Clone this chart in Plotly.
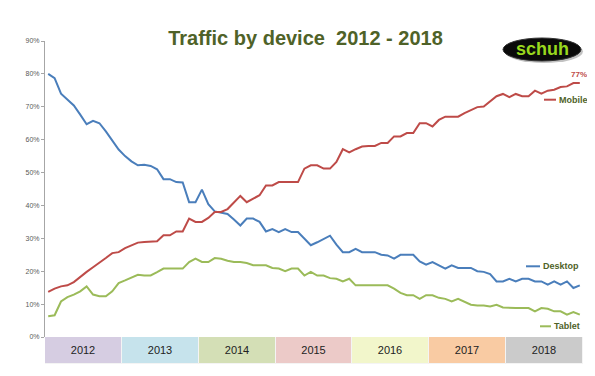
import plotly.graph_objects as go

months = list(range(84))

desktop = [80, 78.7, 74, 72.2, 70.4, 67.6, 64.7, 65.7, 65, 62.5, 59.7, 57,
           55, 53.4, 52.2, 52.4, 52, 51, 48, 48, 47.1, 47, 41, 41,
           44.8, 40.4, 38.2, 37.7, 37.4, 35.7, 33.9, 36, 36, 35, 32.1, 32.8,
           31.9, 32.8, 31.9, 31.9, 29.9, 27.9, 28.8, 29.8, 30.8, 28.1, 25.8, 25.8,
           26.8, 25.8, 25.8, 25.8, 25, 24.8, 23.8, 25, 25, 25, 23, 22,
           22.8, 21.8, 20.8, 21.8, 21, 21, 21, 20, 19.8, 19.1, 16.9, 16.9,
           17.7, 16.9, 17.7, 17.7, 16.9, 16.9, 15.9, 16.9, 15.9, 16.9, 14.9, 15.7]

mobile = [13.7, 14.7, 15.4, 15.7, 16.7, 18.4, 19.8, 21.2, 22.5, 24, 25.5, 25.8,
          27, 27.9, 28.7, 28.9, 28.9, 29.1, 30.9, 30.9, 32.1, 32.1, 36, 35,
          35, 36.2, 38, 38, 38.9, 41, 42.9, 41, 42, 43.1, 46.1, 46.1,
          47.1, 47.1, 47.1, 47.1, 51.2, 52.2, 52.2, 51.2, 51.2, 53.2, 57.1, 56.1,
          57.1, 57.9, 58.1, 58.1, 59, 59, 61, 61, 62, 62, 65, 65,
          64, 66, 67, 67, 67, 68.1, 69.1, 69.9, 70.1, 71.6, 73.2, 73.9,
          72.9, 73.9, 73.2, 73.2, 74.9, 74, 74.9, 75.2, 76, 76.2, 77.2, 77.2]

tablet = [6.3, 6.6, 10.8, 12.1, 12.9, 13.9, 15.4, 12.9, 12.4, 12.4, 13.9, 16.4,
          17.2, 18.1, 18.9, 18.7, 18.7, 19.7, 20.8, 20.8, 20.8, 20.8, 22.8, 23.8,
          22.8, 22.8, 24, 23.8, 23.2, 22.8, 22.8, 22.5, 21.8, 21.8, 21.8, 21,
          20.8, 20, 20.8, 20.8, 18.7, 19.8, 18.7, 18.7, 17.9, 17.7, 16.9, 17.7,
          15.7, 15.7, 15.7, 15.7, 15.7, 15.7, 14.7, 13.4, 12.7, 12.7, 11.6, 12.7,
          12.7, 11.9, 11.6, 10.8, 11.6, 10.6, 9.8, 9.6, 9.6, 9.3, 9.8, 9,
          8.8, 8.8, 8.8, 8.8, 7.8, 8.8, 8.6, 7.8, 7.8, 6.8, 7.6, 6.8]

years = ["2012", "2013", "2014", "2015", "2016", "2017", "2018"]
year_colors = ["#d6cde2", "#c6e3ec", "#d4dfb6", "#eccac8", "#f2f6cb", "#f9cba3", "#cbcbcb"]
ytick_vals = [0, 10, 20, 30, 40, 50, 60, 70, 80, 90]
ytick_text = ["0%", "10%", "20%", "30%", "40%", "50%", "60%", "70%", "80%", "90%"]

FONT = "Liberation Sans, Arial, sans-serif"
OLIVE = "#4f6228"
BLUE = "#4a7ebb"
RED = "#be4b48"
GREEN = "#9bbb59"

fig = go.Figure()
fig.add_trace(go.Scatter(x=months, y=desktop, mode="lines", line=dict(color=BLUE, width=2), name="Desktop"))
fig.add_trace(go.Scatter(x=months, y=tablet, mode="lines", line=dict(color=GREEN, width=2), name="Tablet"))
fig.add_trace(go.Scatter(x=months, y=mobile, mode="lines", line=dict(color=RED, width=2), name="Mobile"))

year_x = [12 * i + 5.5 for i in range(len(years))]
fig.add_trace(go.Bar(x=year_x, y=[1] * len(years), width=12, base=0,
                     marker=dict(color=year_colors, line=dict(color="#f4f4f4", width=1)),
                     text=years, textposition="inside", insidetextanchor="middle",
                     textfont=dict(family=FONT, size=11, color="#222222"),
                     yaxis="y2", xaxis="x", showlegend=False, hoverinfo="skip"))

L, R, T, B = 37, 20, 33, 20
W, H = 595, 376
pw, ph = W - L - R, H - T - B
def px(x):
    return (x - L) / pw
def py(y):
    return (H - B - y) / ph

shapes = []
# legend dashes
for (x0, x1, yy, c) in [(536, 548, 91.7, RED), (518, 532, 258.3, BLUE), (532, 543, 318.3, GREEN)]:
    shapes.append(dict(type="line", xref="paper", yref="paper", x0=px(x0), x1=px(x1), y0=py(yy), y1=py(yy),
                       line=dict(color=c, width=2)))
# logo
shapes.append(dict(type="circle", xref="paper", yref="paper", x0=px(497), x1=px(575), y0=py(32), y1=py(55),
                   fillcolor="rgba(120,120,120,0.45)", line=dict(width=0), layer="above"))
shapes.append(dict(type="circle", xref="paper", yref="paper", x0=px(495), x1=px(573), y0=py(30), y1=py(53),
                   fillcolor="#0a0a0a", line=dict(color="#333333", width=1), layer="above"))

annotations = [
    dict(xref="paper", yref="paper", x=px(534), y=py(41), text="<b>schuh</b>", showarrow=False,
         font=dict(family=FONT, size=18, color="#99d81e"), xanchor="center", yanchor="middle"),
    dict(xref="paper", yref="paper", x=px(571), y=py(66.7), text="<b>77%</b>", showarrow=False,
         font=dict(family=FONT, size=8, color=RED), xanchor="center", yanchor="middle"),
    dict(xref="paper", yref="paper", x=px(548.5), y=py(91.7), text="<b>Mobile</b>", showarrow=False,
         font=dict(family=FONT, size=9, color=OLIVE), xanchor="left", yanchor="middle"),
    dict(xref="paper", yref="paper", x=px(532.5), y=py(258.3), text="<b>Desktop</b>", showarrow=False,
         font=dict(family=FONT, size=9, color=OLIVE), xanchor="left", yanchor="middle"),
    dict(xref="paper", yref="paper", x=px(543.5), y=py(318.3), text="<b>Tablet</b>", showarrow=False,
         font=dict(family=FONT, size=9, color=OLIVE), xanchor="left", yanchor="middle"),
]

split = (H - B - 329) / ph

fig.update_layout(
    width=W, height=H,
    margin=dict(l=L, r=R, t=T, b=B),
    paper_bgcolor="white", plot_bgcolor="white",
    showlegend=False,
    title=dict(text="<b>Traffic by device  2012 - 2018</b>", x=0.5, xref="container", xanchor="center",
               y=1 - 30 / H, yref="container", yanchor="middle",
               font=dict(family=FONT, size=20, color=OLIVE)),
    xaxis=dict(range=[-0.5, 83.5], visible=False, fixedrange=True),
    yaxis=dict(domain=[split, 1], range=[0, 90], tickmode="array", tickvals=ytick_vals, ticktext=ytick_text,
               showline=True, linecolor="#a6a6a6", linewidth=1, ticks="outside", ticklen=3,
               tickcolor="#a6a6a6", showgrid=False, zeroline=False,
               tickfont=dict(family=FONT, size=7, color="#595959")),
    yaxis2=dict(domain=[0, split], range=[0, 1], visible=False, fixedrange=True),
    shapes=shapes,
    annotations=annotations,
    bargap=0,
)

fig.write_html("out.html")
